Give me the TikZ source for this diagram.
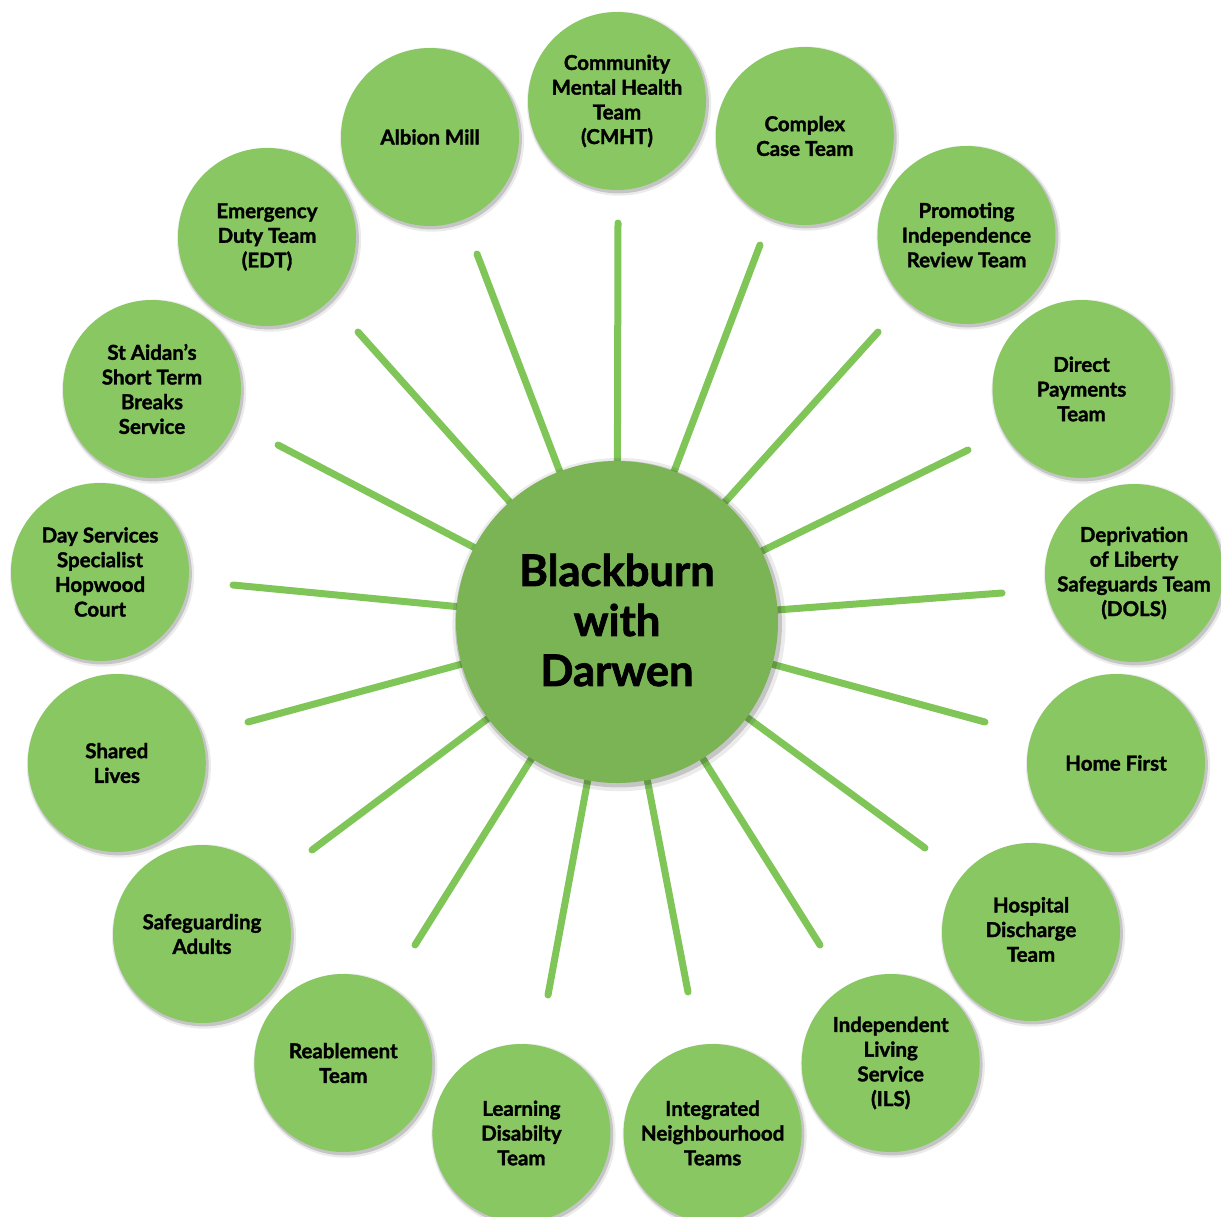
\documentclass[tikz,border=0pt]{standalone}
\usepackage{fontspec}
\setmainfont{Lato}[BoldFeatures={FakeBold=1.6}]
\usetikzlibrary{shadows,backgrounds}
\definecolor{outerg}{RGB}{137,199,98}
\definecolor{centerg}{RGB}{122,180,84}
\definecolor{spokeg}{RGB}{128,197,88}
\tikzset{
  softshadow/.style={
    drop shadow={shadow xshift=2pt,shadow yshift=-2.5pt,shadow scale=1.035,opacity=.08,fill=black},
    drop shadow={shadow xshift=1.5pt,shadow yshift=-2pt,shadow scale=1.015,opacity=.16,fill=black}},
  outer/.style={circle,fill=outerg,minimum size=178pt,inner sep=0pt,softshadow},
  hub/.style={circle,fill=centerg,minimum size=322pt,inner sep=0pt,softshadow},
  otext/.style={align=center,inner sep=0pt,font=\fontsize{20.5}{24.7}\selectfont\bfseries},
  htext/.style={align=center,inner sep=0pt,font=\fontsize{43.5}{50}\selectfont\bfseries},
  spoke/.style={draw=spokeg,line width=7pt,line cap=round}
}
\begin{document}
\begin{tikzpicture}[x=1pt,y=-1pt]
\useasboundingbox (0,0) rectangle (1221,1216);

% hub
\node[hub] (c) at (617,622) {};
\node[htext] (ct) at (617,620) {Blackburn\\with\\Darwen};

% outer circles
\node[outer] (n0)  at (617,101)    {};
\node[outer] (n1)  at (804.8,136)  {};
\node[outer] (n2)  at (966.5,235)  {};
\node[outer] (n3)  at (1081.5,389) {};
\node[outer] (n4)  at (1134,573)   {};
\node[outer] (n5)  at (1116,763)   {};
\node[outer] (n6)  at (1031,932)   {};
\node[outer] (n7)  at (890.7,1063) {};
\node[outer] (n8)  at (712.6,1133) {};
\node[outer] (n9)  at (521.4,1133) {};
\node[outer] (n10) at (343.3,1063) {};
\node[outer] (n11) at (202,934)    {};
\node[outer] (n12) at (116.8,763)  {};
\node[outer] (n13) at (100,572)    {};
\node[outer] (n14) at (152,389)    {};
\node[outer] (n15) at (267,237)    {};
\node[outer] (n16) at (430,137)    {};

% texts
\node[otext] (t0)  at (n0)  {Community\\Mental Health\\Team\\(CMHT)};
\node[otext] (t1)  at (n1)  {Complex\\Case Team};
\node[otext] (t2)  at (n2)  {Promoting\\Independence\\Review Team};
\node[otext] (t3)  at (n3)  {Direct\\Payments\\Team};
\node[otext] (t4)  at (n4)  {Deprivation\\of Liberty\\Safeguards Team\\(DOLS)};
\node[otext] (t5)  at (n5)  {Home First};
\node[otext] (t6)  at ([yshift=2.5pt]n6)  {Hospital\\Discharge\\Team};
\node[otext] (t7)  at (n7)  {Independent\\Living\\Service\\(ILS)};
\node[otext] (t8)  at (n8)  {Integrated\\Neighbourhood\\Teams};
\node[otext] (t9)  at (n9)  {Learning\\Disabilty\\Team};
\node[otext] (t10) at (n10) {Reablement\\Team};
\node[otext] (t11) at (n11) {Safeguarding\\Adults};
\node[otext] (t12) at (n12) {Shared\\Lives};
\node[otext] (t13) at (n13) {Day Services\\Specialist\\Hopwood\\Court};
\node[otext] (t14) at (n14) {St Aidan’s\\Short Term\\Breaks\\Service};
\node[otext] (t15) at (n15) {Emergency\\Duty Team\\(EDT)};
\node[otext] (t16) at (n16) {Albion Mill};

% spoke ends
\coordinate (e0)  at (618,223);
\coordinate (e1)  at (760,245);
\coordinate (e2)  at (878,332);
\coordinate (e3)  at (968,450);
\coordinate (e4)  at (1002,593);
\coordinate (e5)  at (985,722);
\coordinate (e6)  at (925,848);
\coordinate (e7)  at (820,945);
\coordinate (e8)  at (688,992);
\coordinate (e9)  at (548,995);
\coordinate (e10) at (415,945);
\coordinate (e11) at (312,850);
\coordinate (e12) at (248,722);
\coordinate (e13) at (233,585);
\coordinate (e14) at (278,445);
\coordinate (e15) at (358,332);
\coordinate (e16) at (477,254);

\begin{pgfonlayer}{background}
\foreach \i in {0,...,16} {
  \draw[spoke] (c) -- (e\i);
}
\end{pgfonlayer}
\end{tikzpicture}
\end{document}
